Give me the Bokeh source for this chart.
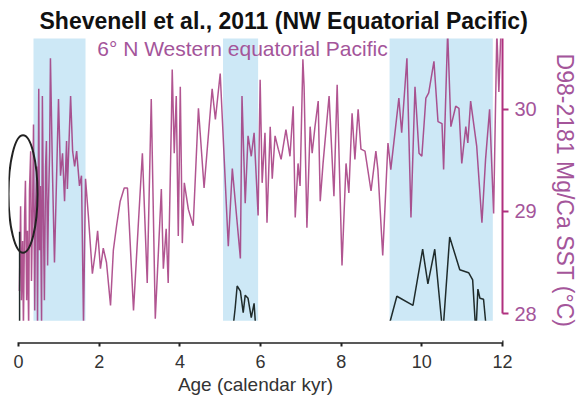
from bokeh.plotting import figure
from bokeh.models import Range1d, FixedTicker, BoxAnnotation, Label
from bokeh.embed import file_html
from bokeh.resources import INLINE
import numpy as np

# ---------------- data ----------------
# D98-2181 Mg/Ca SST (purple)
mgca_age = [0.02, 0.05, 0.07, 0.10, 0.12, 0.15, 0.17, 0.20, 0.22, 0.25, 0.27, 0.30, 0.32, 0.35,
            0.37, 0.40, 0.42, 0.45, 0.47, 0.50, 0.52, 0.54, 0.57, 0.59, 0.62, 0.64, 0.67, 0.69,
            0.72, 0.74, 0.77, 0.79, 0.84, 0.89, 0.94, 0.99, 1.04, 1.09, 1.14, 1.19, 1.21, 1.29,
            1.34, 1.39, 1.44, 1.46, 1.51, 1.56, 1.61, 1.66, 1.73, 1.83, 1.91, 1.96, 2.03, 2.10,
            2.18, 2.28, 2.35, 2.43, 2.52, 2.62, 2.70, 2.85, 2.97, 3.07, 3.19, 3.29, 3.39, 3.54,
            3.59, 3.66, 3.71, 3.79, 3.81, 3.86, 3.91, 3.96, 4.01, 4.06, 4.11, 4.21, 4.33, 4.46,
            4.60, 4.80, 4.88, 5.00, 5.20, 5.30, 5.50, 5.54, 5.62, 5.69, 5.77, 5.84, 5.94, 5.99,
            6.04, 6.11, 6.16, 6.24, 6.29, 6.36, 6.44, 6.51, 6.63, 6.73, 6.81, 6.86, 6.93, 6.98,
            7.05, 7.08, 7.15, 7.23, 7.28, 7.35, 7.43, 7.48, 7.55, 7.70, 7.82, 7.90, 8.02, 8.12,
            8.19, 8.27, 8.34, 8.42, 8.49, 8.59, 8.74, 8.86, 8.91, 9.03, 9.16, 9.23, 9.43, 9.50,
            9.63, 9.73, 9.83, 9.93, 10.00, 10.10, 10.17, 10.30, 10.40, 10.50, 10.54, 10.64,
            10.72, 10.84, 10.92, 10.99, 11.09, 11.14, 11.21, 11.36, 11.49, 11.58, 11.68, 11.78,
            11.86, 11.91, 11.96]
mgca_sst = [28.22, 29.05, 28.13, 28.71, 27.85, 28.96, 29.30, 28.13, 28.81, 27.85, 29.20, 29.59, 28.32, 29.10,
            29.85, 28.03, 29.00, 29.44, 27.85, 30.20, 28.62, 29.25, 27.90, 30.13, 28.81, 28.13, 29.44, 29.69,
            28.47, 29.05, 29.59, 30.50, 29.39, 28.50, 29.30, 30.10, 29.35, 29.57, 29.10, 29.69, 29.22, 30.13,
            29.59, 29.44, 29.59, 29.49, 29.25, 29.35, 27.90, 29.32, 28.96, 28.39, 28.62, 28.81, 28.44, 28.64,
            28.50, 28.08, 28.62, 28.86, 29.10, 29.23, 29.23, 28.03, 28.88, 29.57, 28.30, 30.10, 27.95, 29.22,
            28.44, 28.83, 28.30, 29.90, 30.39, 29.57, 30.13, 28.76, 30.22, 28.69, 29.28, 29.02, 28.86, 30.01,
            29.23, 30.20, 29.90, 30.35, 28.66, 29.42, 28.54, 30.13, 29.08, 29.74, 29.54, 29.77, 28.96, 30.29,
            29.28, 29.77, 28.89, 29.83, 29.32, 29.74, 29.61, 29.51, 29.80, 29.54, 30.03, 28.94, 29.47, 29.25,
            30.49, 30.22, 28.84, 29.83, 29.57, 29.83, 30.08, 29.10, 29.47, 30.13, 29.15, 30.24, 28.47, 29.47,
            29.18, 29.96, 29.51, 30.00, 29.61, 29.59, 29.20, 29.59, 29.41, 28.57, 29.67, 29.41, 30.11, 29.77,
            30.50, 28.94, 30.22, 29.57, 29.54, 30.11, 30.16, 30.47, 29.88, 29.86, 29.41, 30.76,
            29.83, 30.03, 30.01, 29.47, 29.83, 29.67, 30.08, 29.64, 28.89, 29.51, 30.00, 28.98,
            30.76, 30.17, 30.76]

# black record (segments separated by NaN)
black_age = [0.025, 0.025, np.nan,
             5.30, 5.37, 5.42, 5.50, 5.57, 5.62, 5.69, 5.77, 5.84, 5.89, np.nan,
             9.13, 9.38, 9.78, 10.02, 10.15, 10.32, 10.52, 10.69, 10.94, 11.16, 11.26, 11.34,
             11.39, 11.44, 11.53, 11.61]
black_val = [28.80, 27.80, np.nan,
             27.80, 28.05, 28.27, 28.22, 28.01, 28.18, 28.15, 27.96, 28.10, 27.80, np.nan,
             27.80, 28.17, 28.08, 28.63, 28.29, 28.63, 27.80, 28.75, 28.43, 28.40, 28.33, 27.80,
             28.24, 28.15, 28.14, 27.80]

# shaded intervals (kyr)
band_start = [0.37, 5.07, 9.20]
band_end = [1.66, 5.94, 11.76]

# highlighted ellipse
ell_x = [0.11]
ell_y = [29.17]
ell_w = [0.72]
ell_h = [1.15]

x_ticks = [0, 2, 4, 6, 8, 10, 12]
y_ticks = [28, 29, 30]

PURPLE = "#9e2a76"
MAUVE = "#a4559a"
BLUE = "#cde8f6"
FONT = "Liberation Sans"

p = figure(width=584, height=400, output_backend="svg", toolbar_location=None,
           x_range=Range1d(-0.25, 12.0), y_range=Range1d(27.717, 30.693),
           y_axis_location="right",
           min_border_left=8, min_border_right=82, min_border_top=0, min_border_bottom=58)
p.outline_line_color = None
p.grid.visible = False
p.background_fill_color = "white"

p.title.text = "Shevenell et al., 2011 (NW Equatorial Pacific)"
p.title.text_font = FONT
p.title.text_font_size = "23px"
p.title.text_font_style = "bold"
p.title.text_color = "#111111"
p.title.align = "left"
p.title.offset = 31
p.title.standoff = 10

p.quad(left=band_start, right=band_end, bottom=27.0, top=31.5,
       fill_color=BLUE, line_color=None)

p.line(mgca_age, mgca_sst, line_color=PURPLE, line_width=1.5, line_alpha=0.8)
p.line(black_age, black_val, line_color="#1f2b2b", line_width=1.5)

p.ellipse(x=ell_x, y=ell_y, width=ell_w, height=ell_h, fill_color=None,
          line_color="#222222", line_width=2)

# clip everything below the plotting panel
p.add_layout(BoxAnnotation(top=27.93, fill_color="white", fill_alpha=1.0,
                           line_color=None, level="overlay"))

p.add_layout(Label(x=1.95, y=30.595, text="6° N Western equatorial Pacific",
                   text_font=FONT, text_font_size="21px", text_color=MAUVE,
                   text_baseline="middle"))

xa = p.xaxis[0]
xa.ticker = FixedTicker(ticks=x_ticks)
xa.bounds = (0, 12)
xa.axis_line_width = 2.5
xa.axis_line_color = "#222222"
xa.major_tick_line_color = "#222222"
xa.major_tick_line_width = 2
xa.major_tick_in = 2
xa.major_tick_out = 4
xa.minor_tick_line_color = None
xa.major_label_text_font = FONT
xa.major_label_text_font_size = "18px"
xa.major_label_text_color = "#333333"
xa.major_label_standoff = 8
xa.axis_label = "Age (calendar kyr)"
xa.axis_label_text_font = FONT
xa.axis_label_text_font_size = "19px"
xa.axis_label_text_font_style = "normal"
xa.axis_label_text_color = "#333333"
xa.axis_label_standoff = 3

ya = p.yaxis[0]
ya.ticker = FixedTicker(ticks=y_ticks)
ya.bounds = (28, 30.693)
ya.axis_line_width = 2
ya.axis_line_color = "#b0307f"
ya.major_tick_line_color = "#b0307f"
ya.major_tick_line_width = 2
ya.major_tick_in = 0
ya.major_tick_out = 6
ya.minor_tick_line_color = None
ya.major_label_text_font = FONT
ya.major_label_text_font_size = "20px"
ya.major_label_text_color = MAUVE
ya.major_label_standoff = 6
ya.axis_label = "D98-2181 Mg/Ca SST (°C)"
ya.axis_label_text_font = FONT
ya.axis_label_text_font_size = "23px"
ya.axis_label_text_font_style = "normal"
ya.axis_label_text_color = MAUVE
ya.axis_label_standoff = 12

open("out.html", "w").write(file_html(p, INLINE))
